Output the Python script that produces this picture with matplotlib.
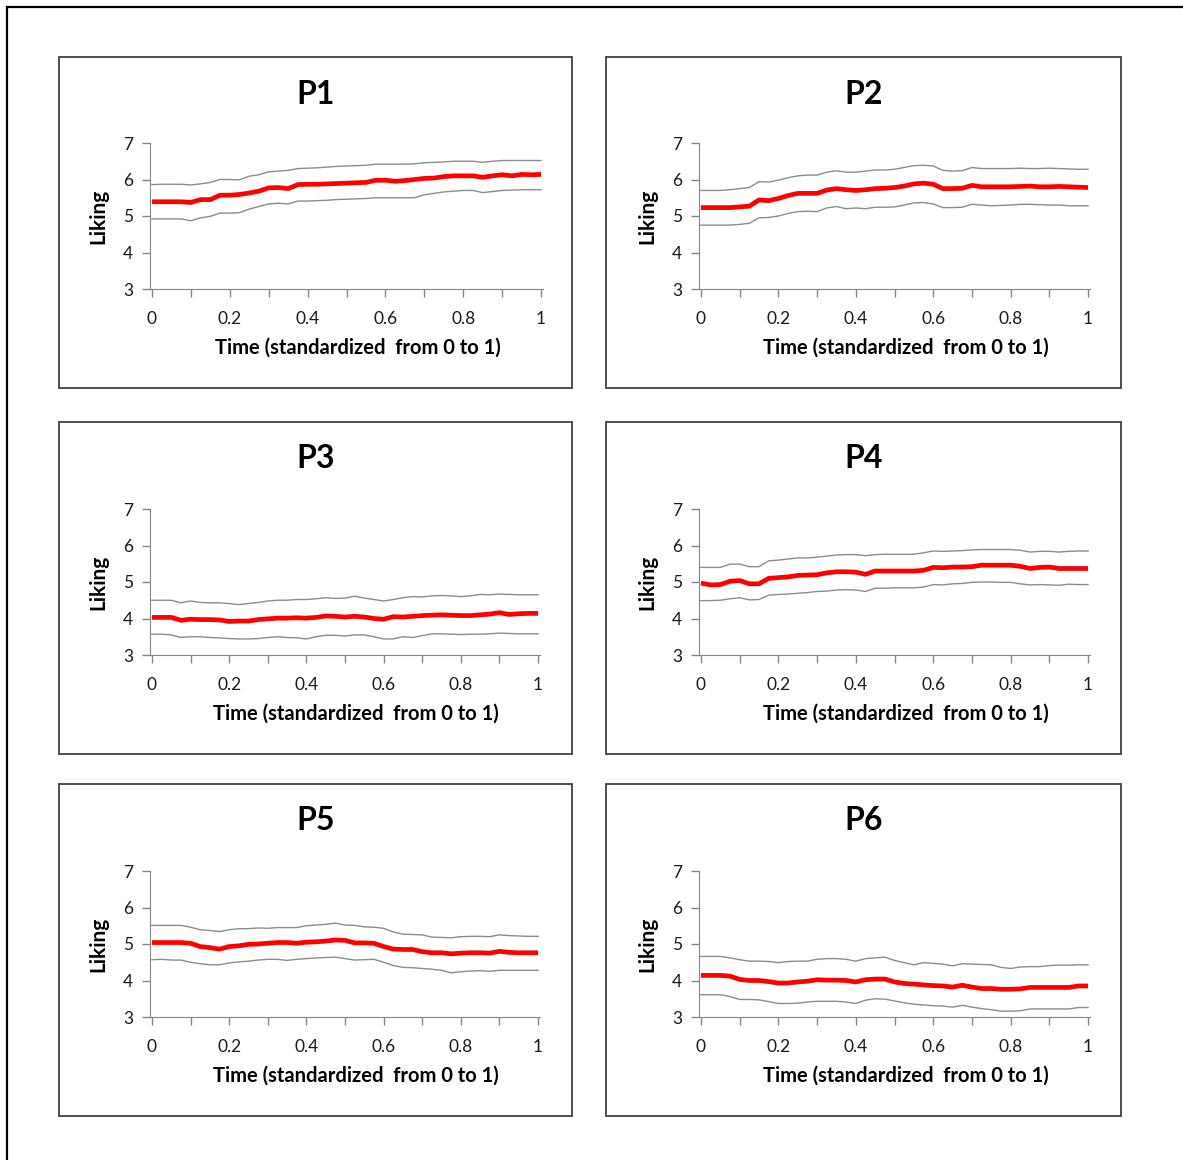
import numpy as np
import matplotlib
matplotlib.use("Agg")
import matplotlib.pyplot as plt
from matplotlib import patches

plt.rcParams['font.family'] = ['Lato', 'DejaVu Sans']

# time grid (standardized 0..1)
time = [i * 0.025 for i in range(41)]

p1_mean = [5.39, 5.39, 5.39, 5.39, 5.37, 5.45, 5.45, 5.57, 5.57, 5.59, 5.63, 5.68, 5.77, 5.78, 5.75, 5.86, 5.87, 5.87, 5.88, 5.89, 5.90,
           5.91, 5.92, 5.98, 5.98, 5.95, 5.97, 6.00, 6.03, 6.04, 6.08, 6.10, 6.10, 6.10, 6.06, 6.10, 6.13, 6.10, 6.14, 6.13, 6.14]
p1_upper = [5.86, 5.87, 5.87, 5.87, 5.85, 5.88, 5.92, 6.00, 6.00, 5.99, 6.09, 6.13, 6.21, 6.23, 6.25, 6.30, 6.31, 6.32, 6.34, 6.36, 6.37,
            6.38, 6.39, 6.42, 6.42, 6.42, 6.42, 6.43, 6.46, 6.47, 6.48, 6.50, 6.50, 6.50, 6.47, 6.50, 6.52, 6.52, 6.52, 6.52, 6.52]
p1_lower = [4.92, 4.92, 4.92, 4.92, 4.87, 4.95, 4.99, 5.08, 5.08, 5.09, 5.19, 5.26, 5.33, 5.35, 5.33, 5.41, 5.41, 5.42, 5.43, 5.45, 5.46,
            5.47, 5.48, 5.50, 5.50, 5.50, 5.50, 5.50, 5.58, 5.62, 5.66, 5.68, 5.70, 5.70, 5.64, 5.67, 5.70, 5.71, 5.72, 5.72, 5.72]

p2_mean = [5.23, 5.23, 5.23, 5.23, 5.25, 5.27, 5.44, 5.42, 5.48, 5.56, 5.62, 5.62, 5.62, 5.71, 5.75, 5.72, 5.70, 5.72, 5.75, 5.76, 5.78,
           5.82, 5.88, 5.90, 5.87, 5.75, 5.75, 5.76, 5.84, 5.80, 5.80, 5.80, 5.80, 5.81, 5.82, 5.80, 5.80, 5.81, 5.80, 5.79, 5.78]
p2_upper = [5.70, 5.70, 5.70, 5.72, 5.75, 5.78, 5.94, 5.93, 5.98, 6.05, 6.10, 6.12, 6.12, 6.20, 6.24, 6.20, 6.20, 6.23, 6.26, 6.26, 6.28,
            6.33, 6.38, 6.39, 6.37, 6.25, 6.23, 6.24, 6.33, 6.30, 6.30, 6.30, 6.30, 6.31, 6.30, 6.30, 6.31, 6.30, 6.29, 6.28, 6.28]
p2_lower = [4.75, 4.75, 4.75, 4.75, 4.77, 4.80, 4.95, 4.96, 5.00, 5.07, 5.12, 5.13, 5.12, 5.22, 5.26, 5.20, 5.22, 5.20, 5.24, 5.24, 5.25,
            5.30, 5.36, 5.37, 5.33, 5.23, 5.23, 5.24, 5.32, 5.30, 5.28, 5.29, 5.30, 5.32, 5.32, 5.31, 5.30, 5.30, 5.28, 5.28, 5.28]

p3_mean = [4.03, 4.03, 4.03, 3.95, 3.98, 3.97, 3.97, 3.96, 3.92, 3.93, 3.93, 3.97, 3.99, 4.01, 4.01, 4.02, 4.01, 4.03, 4.07, 4.06, 4.04,
           4.06, 4.04, 4.00, 3.98, 4.05, 4.04, 4.06, 4.08, 4.09, 4.10, 4.09, 4.08, 4.08, 4.10, 4.12, 4.16, 4.11, 4.13, 4.14, 4.14]
p3_upper = [4.50, 4.50, 4.50, 4.43, 4.48, 4.44, 4.43, 4.43, 4.41, 4.38, 4.41, 4.44, 4.48, 4.50, 4.50, 4.52, 4.52, 4.54, 4.57, 4.55, 4.56,
            4.61, 4.56, 4.52, 4.48, 4.52, 4.57, 4.60, 4.59, 4.62, 4.63, 4.62, 4.60, 4.62, 4.66, 4.65, 4.67, 4.66, 4.65, 4.65, 4.65]
p3_lower = [3.57, 3.57, 3.55, 3.48, 3.50, 3.50, 3.48, 3.47, 3.45, 3.44, 3.44, 3.45, 3.48, 3.50, 3.48, 3.47, 3.44, 3.50, 3.54, 3.54, 3.52,
            3.55, 3.55, 3.50, 3.44, 3.44, 3.50, 3.48, 3.53, 3.58, 3.58, 3.57, 3.56, 3.57, 3.57, 3.58, 3.60, 3.59, 3.58, 3.58, 3.58]

p4_mean = [4.97, 4.92, 4.93, 5.02, 5.04, 4.95, 4.95, 5.10, 5.12, 5.14, 5.18, 5.19, 5.20, 5.25, 5.28, 5.28, 5.27, 5.21, 5.30, 5.30, 5.30,
           5.30, 5.30, 5.32, 5.40, 5.39, 5.41, 5.41, 5.42, 5.46, 5.46, 5.46, 5.46, 5.43, 5.37, 5.40, 5.41, 5.37, 5.37, 5.37, 5.37]
p4_upper = [5.40, 5.40, 5.40, 5.49, 5.49, 5.42, 5.42, 5.58, 5.60, 5.63, 5.66, 5.66, 5.68, 5.71, 5.74, 5.75, 5.75, 5.72, 5.75, 5.76, 5.76,
            5.76, 5.76, 5.80, 5.85, 5.84, 5.85, 5.86, 5.88, 5.89, 5.89, 5.89, 5.89, 5.87, 5.82, 5.84, 5.84, 5.82, 5.84, 5.85, 5.85]
p4_lower = [4.49, 4.49, 4.50, 4.54, 4.57, 4.51, 4.52, 4.64, 4.66, 4.67, 4.69, 4.71, 4.74, 4.75, 4.78, 4.79, 4.78, 4.74, 4.83, 4.83, 4.84,
            4.84, 4.84, 4.86, 4.93, 4.92, 4.95, 4.96, 4.99, 5.00, 5.00, 4.99, 4.99, 4.95, 4.92, 4.93, 4.92, 4.91, 4.94, 4.93, 4.93]

p5_mean = [5.04, 5.04, 5.04, 5.04, 5.02, 4.93, 4.90, 4.86, 4.93, 4.95, 4.99, 5.00, 5.02, 5.04, 5.04, 5.02, 5.05, 5.06, 5.08, 5.11, 5.10,
           5.03, 5.03, 5.02, 4.93, 4.86, 4.85, 4.85, 4.79, 4.76, 4.76, 4.73, 4.75, 4.76, 4.76, 4.75, 4.80, 4.77, 4.76, 4.76, 4.76]
p5_upper = [5.51, 5.51, 5.51, 5.51, 5.46, 5.39, 5.37, 5.34, 5.39, 5.42, 5.42, 5.44, 5.43, 5.45, 5.45, 5.45, 5.50, 5.52, 5.54, 5.57, 5.52,
            5.51, 5.47, 5.46, 5.43, 5.33, 5.27, 5.26, 5.25, 5.19, 5.18, 5.17, 5.20, 5.21, 5.21, 5.20, 5.25, 5.23, 5.22, 5.21, 5.21]
p5_lower = [4.57, 4.58, 4.56, 4.56, 4.50, 4.46, 4.43, 4.43, 4.48, 4.51, 4.53, 4.56, 4.58, 4.58, 4.55, 4.58, 4.60, 4.62, 4.63, 4.64, 4.60,
            4.56, 4.57, 4.58, 4.50, 4.41, 4.36, 4.35, 4.33, 4.31, 4.28, 4.21, 4.24, 4.26, 4.27, 4.25, 4.28, 4.28, 4.28, 4.28, 4.28]

p6_mean = [4.14, 4.14, 4.14, 4.12, 4.03, 4.00, 4.00, 3.97, 3.93, 3.93, 3.96, 3.98, 4.02, 4.01, 4.01, 4.00, 3.96, 4.02, 4.04, 4.04, 3.96,
           3.92, 3.90, 3.88, 3.86, 3.85, 3.82, 3.87, 3.82, 3.78, 3.78, 3.76, 3.76, 3.77, 3.81, 3.81, 3.81, 3.81, 3.81, 3.85, 3.85]
p6_upper = [4.66, 4.66, 4.66, 4.62, 4.57, 4.53, 4.53, 4.52, 4.49, 4.52, 4.53, 4.53, 4.58, 4.60, 4.60, 4.58, 4.53, 4.60, 4.62, 4.64, 4.55,
            4.49, 4.43, 4.49, 4.47, 4.45, 4.40, 4.46, 4.45, 4.44, 4.43, 4.36, 4.33, 4.37, 4.38, 4.38, 4.41, 4.42, 4.42, 4.43, 4.43]
p6_lower = [3.61, 3.61, 3.61, 3.56, 3.48, 3.48, 3.47, 3.42, 3.37, 3.37, 3.38, 3.41, 3.43, 3.43, 3.43, 3.41, 3.37, 3.46, 3.50, 3.49, 3.44,
            3.39, 3.35, 3.33, 3.31, 3.30, 3.27, 3.32, 3.27, 3.23, 3.20, 3.16, 3.16, 3.17, 3.22, 3.22, 3.22, 3.22, 3.22, 3.26, 3.26]

panel_names = ["P1", "P2", "P3", "P4", "P5", "P6"]
means = [p1_mean, p2_mean, p3_mean, p4_mean, p5_mean, p6_mean]
uppers = [p1_upper, p2_upper, p3_upper, p4_upper, p5_upper, p6_upper]
lowers = [p1_lower, p2_lower, p3_lower, p4_lower, p5_lower, p6_lower]

x_ticks = [i / 10 for i in range(11)]
x_labels = ["0", "", "0.2", "", "0.4", "", "0.6", "", "0.8", "", "1"]
y_ticks = [3, 4, 5, 6, 7]

W, H = 1183, 1160
fig = plt.figure(figsize=(W / 100, H / 100), dpi=100)

# panel boxes (pixels): left, top, right, bottom ; plot area: left, top, right, bottom
boxes = [(59, 57, 572, 388), (606, 57, 1121, 388),
         (59, 422, 572, 754), (606, 422, 1121, 754),
         (59, 784, 572, 1116), (606, 784, 1121, 1116)]
areas = [(150, 143, 543, 289), (699, 143, 1090, 289),
         (150, 509, 540, 655), (699, 509, 1090, 655),
         (150, 871, 540, 1017), (699, 871, 1090, 1017)]

# outer frame (runs off the right and bottom edge)
fig.add_artist(patches.Rectangle((7 / W, -0.01), 1.0, 1 - 7 / H + 0.01, transform=fig.transFigure,
                                 fill=False, edgecolor="black", linewidth=1.6))

axis_col = "#868686"
for k in range(6):
    bl, bt, br, bb = boxes[k]
    fig.add_artist(patches.Rectangle((bl / W, 1 - bb / H), (br - bl) / W, (bb - bt) / H,
                                     transform=fig.transFigure, fill=False,
                                     edgecolor="#404040", linewidth=1.3))
    fig.text((bl + br) / 2 / W, 1 - (bt + 37) / H, panel_names[k], ha="center", va="center",
             fontsize=23, fontweight="bold", color="black")

    al, at, ar, ab = areas[k]
    ax = fig.add_axes([al / W, 1 - ab / H, (ar - al) / W, (ab - at) / H])
    ax.plot(time, uppers[k], color="#8c8c8c", linewidth=1.0)
    ax.plot(time, lowers[k], color="#8c8c8c", linewidth=1.0)
    ax.plot(time, means[k], color="#ff0000", linewidth=3.4, solid_capstyle="butt")
    ax.set_xlim(-0.005, 1.005)
    ax.set_ylim(3, 7)
    ax.set_xticks(x_ticks)
    ax.set_xticklabels(x_labels)
    ax.set_yticks(y_ticks)
    ax.spines["top"].set_visible(False)
    ax.spines["right"].set_visible(False)
    ax.spines["left"].set_color(axis_col)
    ax.spines["bottom"].set_color(axis_col)
    ax.tick_params(axis="both", direction="out", length=6, color=axis_col, width=1,
                   labelsize=12.5, labelcolor="#1a1a1a")
    ax.tick_params(axis="x", pad=10)
    ax.tick_params(axis="y", pad=6)
    ax.set_xlabel("Time (standardized  from 0 to 1)", fontsize=14.5, fontweight="bold")
    ax.xaxis.set_label_coords(0.528, -59 / (ab - at) + 0.0, transform=ax.transAxes)
    ax.xaxis.label.set_va("center")
    ax.set_ylabel("Liking", fontsize=15, fontweight="bold", labelpad=11)
    ax.patch.set_alpha(0)

fig.savefig("out.png", dpi=100)
